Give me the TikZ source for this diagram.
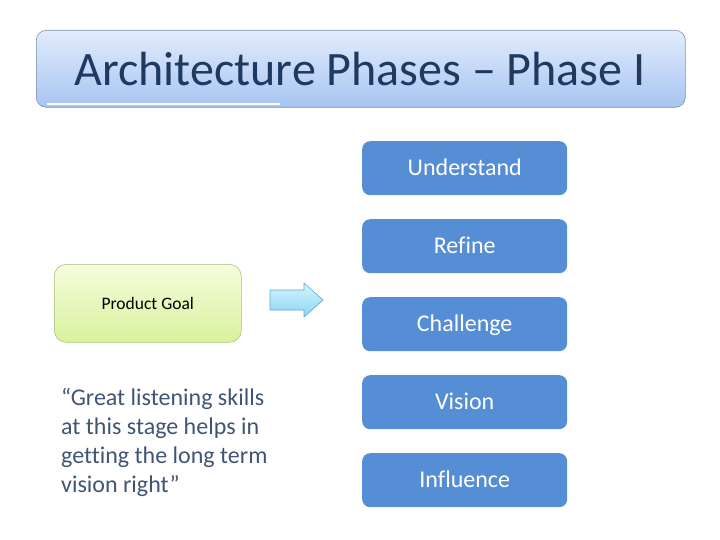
\documentclass[tikz,border=0pt]{standalone}
\usepackage{fontspec}
\setmainfont[Ligatures={NoCommon}]{Carlito}
\definecolor{titletop}{HTML}{E2ECFC}
\definecolor{titlebot}{HTML}{A7C4F2}
\definecolor{titleborder}{HTML}{7A8FAE}
\definecolor{titletext}{HTML}{1F3A60}
\definecolor{phaseblue}{HTML}{558ED5}
\definecolor{goaltop}{HTML}{F5FCDC}
\definecolor{goalbot}{HTML}{D9F29E}
\definecolor{goalborder}{HTML}{A7C47A}
\definecolor{arrowtop}{HTML}{D8F4FD}
\definecolor{arrowbot}{HTML}{8AD6F2}
\definecolor{arrowborder}{HTML}{5CA6D2}
\definecolor{quotetext}{HTML}{405575}
\tikzset{
  phasebox/.style={rectangle, rounded corners=8pt, fill=phaseblue, draw=none,
    minimum width=205pt, minimum height=54pt, inner sep=0pt,
    text height=15.5pt, text depth=0pt,
    text=white, font=\fontsize{24}{28}\selectfont},
}
\begin{document}
\begin{tikzpicture}[x=1pt,y=-1pt]
\useasboundingbox (0,0) rectangle (720,540);
% title
\node[rectangle, rounded corners=10pt, top color=titletop, bottom color=titlebot,
  draw=titleborder, line width=0.6pt, minimum width=649pt, minimum height=77pt,
  inner sep=0pt, anchor=north west] (title) at (36,30) {};
\draw[white, line width=1.2pt] (47,104) -- (280,104);
\node[text=titletext, font=\fontsize{48}{58}\selectfont] (titletxt) at (360,69) {Architecture Phases – Phase I};
% phase boxes
\node[phasebox, anchor=north west] (understand) at (362,141) {Understand};
\node[phasebox, anchor=north west] (refine) at (362,219) {Refine};
\node[phasebox, anchor=north west] (challenge) at (362,297) {Challenge};
\node[phasebox, anchor=north west] (vision) at (362,375) {Vision};
\node[phasebox, anchor=north west] (influence) at (362,453) {Influence};
% product goal
\node[rectangle, rounded corners=12pt, top color=goaltop, bottom color=goalbot,
  draw=goalborder, line width=0.6pt, minimum width=187pt, minimum height=78pt,
  inner sep=0pt, anchor=north west, font=\fontsize{17.5}{20}\selectfont] (goal) at (54,264) {Product Goal};
% arrow
\draw[arrowborder, line width=0.6pt, top color=arrowtop, bottom color=arrowbot]
  (270,290) -- (304,290) -- (304,283) -- (323,300) -- (304,317) -- (304,310) -- (270,310) -- cycle;
% quote
\node[anchor=north west, align=left, text=quotetext, inner sep=0pt,
  font=\fontsize{24}{29}\selectfont] (quote) at (61,388)
  {“Great listening skills\\at this stage helps in\\getting the long term\\vision right”};
\end{tikzpicture}
\end{document}
